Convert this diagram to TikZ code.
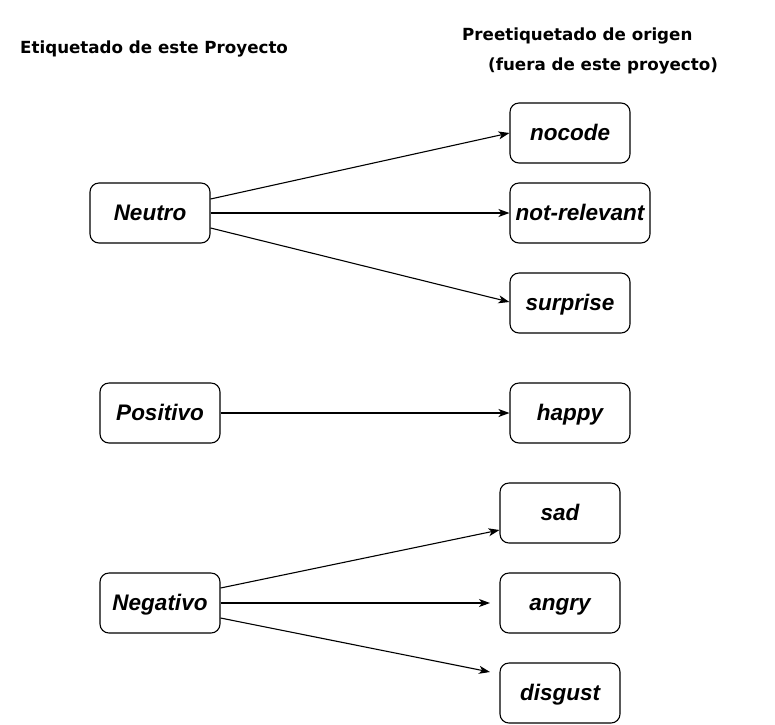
\documentclass[tikz,border=0pt]{standalone}
\usepackage{fontspec}
\setmainfont{Liberation Sans}
\newfontfamily\titlefont{DejaVu Sans}
\usetikzlibrary{arrows.meta}
\begin{document}
\begin{tikzpicture}[x=1pt,y=-1pt,
  box/.style={draw=black,line width=1.1pt,rounded corners=9pt,minimum height=60pt,inner sep=0pt,
    text height=18pt,text depth=4pt,
    font=\fontsize{22.5}{26}\selectfont\bfseries\itshape},
  ttl/.style={font=\titlefont\fontsize{16.7}{20}\selectfont\bfseries,inner sep=0pt,anchor=west},
  conn/.style={line width=1.1pt,-{Stealth[length=11pt,width=8pt,inset=3pt]}}]
\useasboundingbox (0,0) rectangle (775,724);
\node[ttl] (t1) at (20,49) {Etiquetado de este Proyecto};
\node[ttl] (t2) at (462,36) {Preetiquetado de origen};
\node[ttl] (t3) at (488,66) {(fuera de este proyecto)};
\node[box,minimum width=120pt] (neutro) at (150,213) {Neutro};
\node[box,minimum width=120pt] (positivo) at (160,413) {Positivo};
\node[box,minimum width=120pt] (negativo) at (160,603) {Negativo};
\node[box,minimum width=120pt] (nocode) at (570,133) {nocode};
\node[box,minimum width=140pt] (notrel) at (580,213) {not-relevant};
\node[box,minimum width=120pt] (surprise) at (570,303) {surprise};
\node[box,minimum width=120pt] (happy) at (570,413) {happy};
\node[box,minimum width=120pt] (sad) at (560,513) {sad};
\node[box,minimum width=120pt] (angry) at (560,603) {angry};
\node[box,minimum width=120pt] (disgust) at (560,693) {disgust};
\coordinate (angryend) at (490,603);
\coordinate (disgustend) at (490,672);
\draw[conn] ([yshift=14pt]neutro.east) -- (nocode.west);
\draw[conn] (neutro.east) -- (notrel.west);
\draw[conn] ([yshift=-15pt]neutro.east) -- ([yshift=1pt]surprise.west);
\draw[conn] (positivo.east) -- (happy.west);
\draw[conn] ([yshift=15pt]negativo.east) -- ([yshift=-17pt]sad.west);
\draw[conn] (negativo.east) -- (angryend);
\draw[conn] ([yshift=-15pt]negativo.east) -- (disgustend);
\end{tikzpicture}
\end{document}
